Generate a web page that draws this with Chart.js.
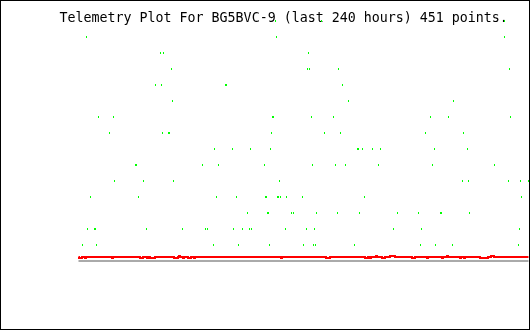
<!DOCTYPE html>
<html>
<head>
<meta charset="utf-8">
<title>Telemetry Plot For BG5BVC-9</title>
<script src="https://cdn.jsdelivr.net/npm/chart.js"></script>
<style>
  html, body { margin: 0; padding: 0; background: #ffffff; }
  canvas { display: block; }
</style>
</head>
<body>
<canvas id="telemetry" width="530" height="330"></canvas>
<script>
// 451 packets, x = packet number, y = raw channel value (0..255)
const titleText = 'Telemetry Plot For BG5BVC-9 (last 240 hours) 451 points.'
const sampleCount = 451

// channel 2 (green): one list of packet numbers per value level
const ch2Levels = [240, 224, 208, 192, 176, 160, 144, 128, 112, 96, 80, 64, 48, 32, 16]
const ch2Samples = [
    [197, 243, 426],
    [8, 198, 426],
    [82, 85, 230],
    [93, 229, 231, 260, 431],
    [77, 83, 147, 148, 264],
    [94, 270, 375],
    [20, 35, 194, 195, 233, 255, 352, 370, 432],
    [31, 84, 90, 91, 193, 246, 262, 347, 385],
    [136, 154, 172, 192, 279, 280, 284, 294, 302, 356, 389],
    [57, 58, 124, 140, 186, 234, 257, 267, 300, 354, 416],
    [36, 65, 95, 201, 384, 390, 430, 442, 450],
    [12, 60, 138, 158, 187, 188, 199, 200, 202, 208, 224, 286, 443],
    [169, 189, 190, 213, 215, 238, 259, 281, 319, 340, 362, 363, 391],
    [9, 16, 17, 68, 104, 127, 129, 155, 164, 171, 173, 207, 228, 236, 315, 343, 441],
    [4, 18, 135, 160, 191, 225, 235, 237, 276, 342, 357, 374, 440]
]

// channel 1 (red): packets where the value changes
const ch1Sample = [0, 1, 3, 4, 6, 7, 8, 33, 34, 35, 61, 62, 64, 65, 68, 69, 70,
    71, 72, 76, 77, 95, 96, 99, 100, 101, 102, 104, 105, 106, 109, 110, 112, 113,
    115, 116, 117, 202, 203, 204, 247, 248, 251, 252, 286, 287, 289, 290, 291, 292,
    293, 297, 298, 299, 303, 304, 306, 307, 311, 312, 316, 317, 333, 334, 336, 337,
    348, 349, 350, 363, 364, 365, 368, 369, 370, 381, 382, 383, 385, 386, 387,
    401, 402, 409, 410, 412, 413, 415, 416, 450]
const ch1Value = [4, 3, 3, 4, 4, 3, 4, 4, 3, 4, 4, 3, 3, 4, 4, 3, 4,
    4, 3, 3, 4, 4, 3, 3, 4, 5, 4, 4, 3, 4, 4, 3, 3, 4,
    4, 3, 4, 4, 3, 4, 4, 3, 3, 4, 4, 3, 3, 4, 4, 3,
    4, 4, 5, 4, 4, 3, 3, 4, 4, 5, 5, 4, 4, 3, 3, 4,
    4, 3, 4, 4, 3, 4, 4, 5, 4, 4, 3, 4, 4, 3, 4,
    4, 3, 3, 4, 4, 5, 5, 4, 4]

// channel 3 (grey): flat at zero
const ch3Sample = [0, 450]
const ch3Value = [0, 0]

const ch2Points = ch2Levels.flatMap((level, i) => ch2Samples[i].map(s => ({x: s, y: level})))
const ch1Points = ch1Sample.map((s, i) => ({x: s, y: ch1Value[i]}))
const ch3Points = ch3Sample.map((s, i) => ({x: s, y: ch3Value[i]}))

// 1x2 pixel marker for the green dots
const dot = document.createElement('canvas')
dot.width = 1
dot.height = 2
const dotCtx = dot.getContext('2d')
dotCtx.fillStyle = '#00ff00'
dotCtx.fillRect(0, 0, 1, 2)

const framePlugin = {
    id: 'frame',
    beforeDraw(chart) {
        const ctx = chart.ctx
        ctx.save()
        ctx.fillStyle = '#ffffff'
        ctx.fillRect(0, 0, chart.width, chart.height)
        ctx.restore()
    },
    beforeDatasetsDraw(chart) {
        const ctx = chart.ctx
        ctx.save()
        ctx.fillStyle = '#000000'
        ctx.font = '13.3px "DejaVu Sans Mono"'
        ctx.textAlign = 'left'
        ctx.textBaseline = 'alphabetic'
        ctx.fillText(titleText, 59.5, 22)
        ctx.restore()
    },
    afterDraw(chart) {
        const ctx = chart.ctx
        ctx.save()
        ctx.strokeStyle = '#000000'
        ctx.lineWidth = 1
        ctx.strokeRect(0.5, 0.5, chart.width - 1, chart.height - 1)
        ctx.restore()
    }
}

const data_telemetry = {
    datasets: [{
        label: 'Ch2',
        data: ch2Points,
        showLine: false,
        pointStyle: dot,
        pointRadius: 1,
        backgroundColor: '#00ff00',
        borderColor: '#00ff00'
    },
    {
        label: 'Ch1',
        data: ch1Points,
        showLine: true,
        stepped: 'middle',
        borderColor: '#ff0000',
        backgroundColor: '#ff0000',
        borderWidth: 2,
        pointRadius: 0
    },
    {
        label: 'Ch3',
        data: ch3Points,
        showLine: true,
        borderColor: '#aaaaaa',
        backgroundColor: '#aaaaaa',
        borderWidth: 2,
        pointRadius: 0
    }
]}

const options_telemetry = {
    responsive: false,
    animation: false,
    devicePixelRatio: 1,
    events: [],
    layout: {
        autoPadding: false,
        padding: {left: 78, right: 1, top: 5, bottom: 61}
    },
    plugins: {
        legend: {display: false},
        title: {display: false},
        tooltip: {enabled: false}
    },
    scales: {
        x: {
            type: 'linear',
            display: false,
            min: -0.5,
            max: sampleCount - 0.5
        },
        y: {
            type: 'linear',
            display: false,
            min: -8,
            max: 256
        }
    }
}

const config_telemetry = {
    type: 'scatter',
    data: data_telemetry,
    options: options_telemetry,
    plugins: [framePlugin]
}

new Chart(document.getElementById('telemetry'), config_telemetry)
</script>
</body>
</html>
